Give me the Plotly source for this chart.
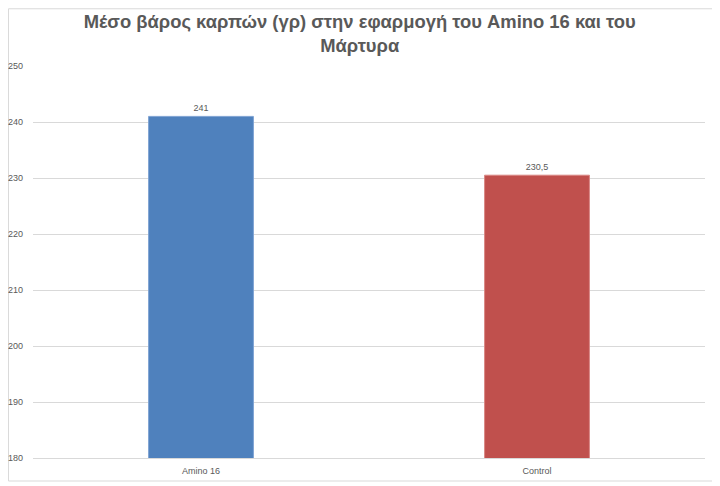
import plotly.graph_objects as go

categories = ["Amino 16", "Control"]
values = [241, 230.5]
colors = ["#4F81BD", "#C0504D"]
labels = [str(v).replace(".", ",") for v in values]

TITLE = "Μέσο βάρος καρπών (γρ) στην εφαρμογή του Amino 16 και του<br>Μάρτυρα"

# the page body adds an 8px offset, so the figure is 712x478
fig = go.Figure()
fig.add_trace(go.Bar(
    x=categories, y=values, width=0.312,
    marker=dict(color=colors, line=dict(color=["#7FA3D3", "#D98784"], width=1)),
    text=labels, textposition="outside", cliponaxis=False,
    textfont=dict(size=9, color="#595959"),
))

fig.update_layout(
    width=712, height=478,
    margin=dict(l=25, r=15, t=58, b=28),
    paper_bgcolor="white", plot_bgcolor="white",
    font=dict(family="Liberation Sans, Arial, sans-serif", color="#595959"),
    title=dict(text=TITLE, x=0.494, xanchor="center", y=0.958, yanchor="top",
               font=dict(size=18.4, color="#595959", family="Liberation Sans, Arial, sans-serif",
                         weight="bold")),
    showlegend=False,
    shapes=[dict(type="rect", xref="paper", yref="paper",
                 x0=-0.0365, x1=1.0164, y0=-0.0587, y1=1.146,
                 line=dict(color="#D9D9D9", width=1), layer="below")],
)
fig.update_yaxes(range=[180, 250], dtick=10, showgrid=True, gridcolor="#D9D9D9",
                 gridwidth=1, zeroline=False, showline=False, automargin=False,
                 tickfont=dict(size=9, color="#595959"), ticks="", ticklabelstandoff=9)
fig.update_xaxes(showline=True, linecolor="#D9D9D9", ticks="", ticklabelstandoff=4,
                 automargin=False, tickfont=dict(size=9, color="#595959"))

fig.write_html("out.html")
